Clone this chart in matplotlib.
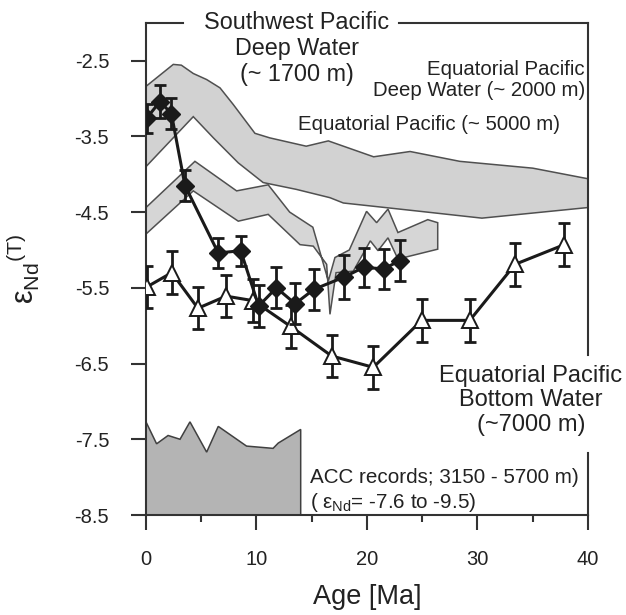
import numpy as np
import matplotlib
matplotlib.use("Agg")
import matplotlib.pyplot as plt

plt.rcParams["font.family"] = ["Liberation Sans", "DejaVu Sans"]
plt.rcParams["mathtext.fontset"] = "custom"
plt.rcParams["mathtext.rm"] = "Liberation Sans"
plt.rcParams["mathtext.it"] = "Liberation Sans"
plt.rcParams["axes.unicode_minus"] = False

# filled diamonds (black)
dia_age = [0.06, 1.27, 2.3, 3.53, 6.54, 8.57, 10.2, 11.8, 13.5, 15.2, 17.9, 19.7, 21.5, 23.0]
dia_eps = [-3.26, -3.04, -3.20, -4.15, -5.04, -5.01, -5.74, -5.50, -5.71, -5.52, -5.36, -5.23, -5.25, -5.14]
dia_err = [0.19, 0.22, 0.20, 0.20, 0.20, 0.20, 0.28, 0.27, 0.27, 0.27, 0.29, 0.26, 0.26, 0.27]

# open triangles (bottom water)
tri_age = [0.06, 2.33, 4.7, 7.24, 9.71, 13.09, 16.8, 20.57, 24.95, 29.3, 33.4, 37.86]
tri_eps = [-5.49, -5.30, -5.77, -5.61, -5.67, -6.01, -6.40, -6.55, -5.93, -5.93, -5.19, -4.93]
tri_err = [0.28] * 12

# large upper band
band1_top_age = [0, 2.47, 3.2, 4.28, 5.49, 6.7, 7.9, 9.86, 11.2, 14.5, 16.5, 20.6, 23.9, 28.4, 35.0, 40]
band1_top_eps = [-2.84, -2.55, -2.56, -2.67, -2.75, -2.86, -3.08, -3.46, -3.52, -3.63, -3.56, -3.77, -3.70, -3.83, -3.92, -4.06]
band1_bot_age = [0, 4.28, 6.1, 8.35, 10.6, 13.6, 16.65, 17.86, 24.8, 30.4, 40]
band1_bot_eps = [-3.90, -3.24, -3.52, -3.85, -4.11, -4.20, -4.31, -4.38, -4.49, -4.58, -4.44]

# lower (jagged) band
band2_top_age = [0, 4.43, 8.2, 11.06, 13.0, 15.1, 16.5, 17.1, 18.4, 19.96, 20.87, 21.9, 22.8, 25.5, 26.4]
band2_top_eps = [-4.44, -3.83, -4.22, -4.14, -4.50, -4.70, -5.41, -5.10, -5.00, -4.49, -4.64, -4.46, -4.77, -4.60, -4.64]
band2_bot_age = [0, 4.28, 8.35, 11.06, 13.94, 15.14, 16.35, 16.65, 17.2, 18.76, 20.3, 21.0, 21.9, 22.8, 26.4]
band2_bot_eps = [-4.79, -4.22, -4.62, -4.53, -4.93, -4.95, -5.19, -5.85, -5.30, -5.28, -4.88, -5.01, -4.84, -5.12, -4.99]

# ACC records
acc_age = [0, 0.96, 2.0, 3.08, 3.98, 5.49, 6.54, 9.1, 11.5, 11.97, 14.0]
acc_eps = [-7.27, -7.56, -7.45, -7.50, -7.27, -7.67, -7.33, -7.59, -7.62, -7.55, -7.37]

yticks = [-8.5, -7.5, -6.5, -5.5, -4.5, -3.5, -2.5]
ytick_labels = ["-8.5", "-7.5", "-6.5", "-5.5", "-4.5", "-3.5", "-2.5"]
xticks = [0, 10, 20, 30, 40]

fig = plt.figure(figsize=(6.26, 6.15), dpi=100)
ax = fig.add_axes([0.2332, 0.1626, 0.7061, 0.8004])

edge = "#505050"
ax.fill(band1_top_age + band1_bot_age[::-1], band1_top_eps + band1_bot_eps[::-1],
        facecolor="#d2d2d2", edgecolor=edge, lw=1.1, zorder=1)
ax.fill(band2_top_age + band2_bot_age[::-1], band2_top_eps + band2_bot_eps[::-1],
        facecolor="#d6d6d6", edgecolor=edge, lw=1.1, zorder=1)
ax.fill([0] + acc_age + [acc_age[-1]], [-8.5] + acc_eps + [-8.5],
        facecolor="#b4b4b4", edgecolor="#404040", lw=1.1, zorder=1)

ax.errorbar(tri_age, tri_eps, yerr=tri_err, fmt="none", ecolor="#1a1a1a",
            elinewidth=2.0, capsize=4, capthick=2.0, zorder=3)
ax.plot(tri_age, tri_eps, color="#1a1a1a", lw=2.2, zorder=3)
ax.plot(tri_age, tri_eps, ls="none", marker="^", ms=11.5, mfc="white", mec="#1a1a1a",
        mew=1.4, zorder=4)

ax.errorbar(dia_age, dia_eps, yerr=dia_err, fmt="none", ecolor="#1a1a1a",
            elinewidth=2.0, capsize=4, capthick=2.0, zorder=5)
ax.plot(dia_age, dia_eps, color="#1a1a1a", lw=2.2, marker="D", ms=9, mfc="#1a1a1a",
        mec="#1a1a1a", zorder=6)

ax.set_xlim(0, 40)
ax.set_ylim(-8.5, -2.0)
ax.set_xticks(xticks)
ax.set_xticks([5, 15, 25, 35], minor=True)
ax.set_yticks(yticks)
ax.set_yticklabels(ytick_labels)
ax.tick_params(axis="both", which="major", direction="out", length=10.5, width=1.5,
               colors="#333333", labelcolor="#222222", labelsize=14.5, pad=15)
ax.tick_params(axis="y", pad=16)
ax.tick_params(axis="x", which="minor", direction="out", length=5, width=1.5, colors="#333333")

for s in ["top", "right"]:
    ax.spines[s].set_visible(False)
for s in ["left", "bottom"]:
    ax.spines[s].set_linewidth(1.5)
    ax.spines[s].set_color("#333333")

# broken top and right frame
kw = dict(transform=ax.transAxes, color="#333333", lw=1.5, clip_on=False, zorder=7,
          solid_capstyle="projecting")
ax.plot([0, 0.084], [1, 1], **kw)
ax.plot([0.572, 1], [1, 1], **kw)
ax.plot([1, 1], [1, 0.325], **kw)
ax.plot([1, 1], [0.126, 0], **kw)

ax.set_xlabel("Age [Ma]", fontsize=19.5, color="#222222", va="center")
ax.xaxis.set_label_coords(0.5, -0.1666)
ax.set_ylabel(r"$\mathrm{ε_{Nd}{}^{(T)}}$", fontsize=22, color="#222222", va="center", ha="center")
ax.yaxis.set_label_coords(-0.278, 0.5)

tc = "#222222"
ax.text(13.67, -2.34, "Southwest Pacific\nDeep Water\n(~ 1700 m)", ha="center", va="center",
        fontsize=16.8, linespacing=1.15, color=tc)
ax.text(39.73, -2.757, "Equatorial Pacific\nDeep Water (~ 2000 m)", ha="right", va="center",
        fontsize=14.7, linespacing=1.12, color=tc)
ax.text(25.57, -3.346, "Equatorial Pacific (~ 5000 m)", ha="center", va="center",
        fontsize=14.7, color=tc)
ax.text(34.84, -6.987, "Equatorial Pacific\nBottom Water\n(~7000 m)", ha="center", va="center",
        fontsize=17, linespacing=1.17, color=tc)
ax.text(14.84, -8.0, "ACC records; 3150 - 5700 m)", ha="left", va="center",
        fontsize=14.9, color=tc)
ax.text(14.84, -8.33, r"( $\mathrm{ε_{Nd}}$= -7.6 to -9.5)", ha="left", va="center",
        fontsize=14.9, color=tc)

fig.savefig("out.png", dpi=100)
